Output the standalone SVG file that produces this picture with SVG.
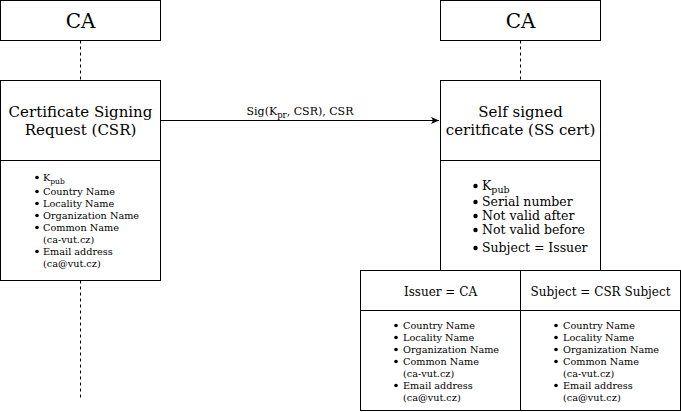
<svg xmlns="http://www.w3.org/2000/svg" width="681" height="412" viewBox="0 0 681 412">
<defs>
<style>
.box{fill:#fff;stroke:#000;stroke-width:1}
.t{font-family:"DejaVu Serif","Liberation Serif",serif;fill:#000}
.c{text-anchor:middle}
.dash{stroke:#000;stroke-width:1;stroke-dasharray:3 3;fill:none}
.li{font-size:9.7px}
.li2{font-size:12.5px}
.b{fill:#000}
</style>
<marker id="ah" markerWidth="10" markerHeight="10" refX="8" refY="5" orient="auto" markerUnits="userSpaceOnUse">
<path d="M0,1.5 L8,5 L0,8.5 L2,5 Z" fill="#000"/>
</marker>
</defs>
<rect width="681" height="412" fill="#fff"/>
<g id="connectors">
<line class="dash" x1="80.5" y1="40.5" x2="80.5" y2="80.5"/>
<line class="dash" x1="80.5" y1="280.5" x2="80.5" y2="400"/>
<line class="dash" x1="520.5" y1="40.5" x2="520.5" y2="80.5"/>
<line x1="160.5" y1="120.5" x2="439" y2="120.5" stroke="#000" stroke-width="1" marker-end="url(#ah)"/>
<text class="t c" x="300" y="115" font-size="11">Sig(K<tspan font-size="8.5" dy="3">pr</tspan><tspan dy="-3">, CSR), CSR</tspan></text>
</g>
<g id="ca-left">
<rect class="box" x="0.5" y="0.5" width="160" height="40"/>
<text class="t c" x="80.5" y="28" font-size="20">CA</text>
</g>
<g id="csr">
<rect class="box" x="0.5" y="80.5" width="160" height="80"/>
<text class="t c" x="80.5" y="117" font-size="15">Certificate Signing</text>
<text class="t c" x="80.5" y="135" font-size="15">Request (CSR)</text>
</g>
<g id="csr-fields">
<rect class="box" x="0.5" y="160.5" width="160" height="120"/>
<g class="b">
<circle cx="37" cy="177.5" r="1.8"/><circle cx="37" cy="191.5" r="1.8"/><circle cx="37" cy="203.5" r="1.8"/><circle cx="37" cy="215.5" r="1.8"/><circle cx="37" cy="227.5" r="1.8"/><circle cx="37" cy="251.5" r="1.8"/>
</g>
<g class="t li">
<text x="43" y="181">K<tspan font-size="7.5" dy="2.5">pub</tspan></text>
<text x="43" y="195">Country Name</text>
<text x="43" y="207">Locality Name</text>
<text x="43" y="219">Organization Name</text>
<text x="43" y="231">Common Name</text>
<text x="43" y="243">(ca-vut.cz)</text>
<text x="43" y="255">Email address</text>
<text x="43" y="267">(ca@vut.cz)</text>
</g>
</g>
<g id="ca-right">
<rect class="box" x="440.5" y="0.5" width="160" height="40"/>
<text class="t c" x="520.5" y="28" font-size="20">CA</text>
</g>
<g id="ss-cert">
<rect class="box" x="440.5" y="80.5" width="160" height="80"/>
<text class="t c" x="520.5" y="117" font-size="15">Self signed</text>
<text class="t c" x="520.5" y="135" font-size="15">ceritficate (SS cert)</text>
</g>
<g id="ss-fields">
<rect class="box" x="440.5" y="160.5" width="160" height="110"/>
<g class="b">
<circle cx="475.5" cy="186" r="2.2"/><circle cx="475.5" cy="202" r="2.2"/><circle cx="475.5" cy="216" r="2.2"/><circle cx="475.5" cy="230" r="2.2"/><circle cx="475.5" cy="248" r="2.2"/>
</g>
<g class="t li2">
<text x="482" y="190">K<tspan font-size="9.5" dy="3">pub</tspan></text>
<text x="482" y="206">Serial number</text>
<text x="482" y="220">Not valid after</text>
<text x="482" y="234">Not valid before</text>
<text x="482" y="252">Subject = Issuer</text>
</g>
</g>
<g id="issuer">
<rect class="box" x="360.5" y="270.5" width="160" height="40"/>
<text class="t c" x="440.5" y="296" font-size="12">Issuer = CA</text>
<rect class="box" x="360.5" y="310.5" width="160" height="100"/>
<g class="b">
<circle cx="396" cy="325.5" r="1.8"/><circle cx="396" cy="337.5" r="1.8"/><circle cx="396" cy="349.5" r="1.8"/><circle cx="396" cy="361.5" r="1.8"/><circle cx="396" cy="385.5" r="1.8"/>
</g>
<g class="t li">
<text x="403" y="329">Country Name</text>
<text x="403" y="341">Locality Name</text>
<text x="403" y="353">Organization Name</text>
<text x="403" y="365">Common Name</text>
<text x="403" y="377">(ca-vut.cz)</text>
<text x="403" y="389">Email address</text>
<text x="403" y="401">(ca@vut.cz)</text>
</g>
</g>
<g id="subject">
<rect class="box" x="520.5" y="270.5" width="160" height="40"/>
<text class="t c" x="600.5" y="296" font-size="12">Subject = CSR Subject</text>
<rect class="box" x="520.5" y="310.5" width="160" height="100"/>
<g class="b">
<circle cx="556" cy="325.5" r="1.8"/><circle cx="556" cy="337.5" r="1.8"/><circle cx="556" cy="349.5" r="1.8"/><circle cx="556" cy="361.5" r="1.8"/><circle cx="556" cy="385.5" r="1.8"/>
</g>
<g class="t li">
<text x="563" y="329">Country Name</text>
<text x="563" y="341">Locality Name</text>
<text x="563" y="353">Organization Name</text>
<text x="563" y="365">Common Name</text>
<text x="563" y="377">(ca-vut.cz)</text>
<text x="563" y="389">Email address</text>
<text x="563" y="401">(ca@vut.cz)</text>
</g>
</g>
</svg>
